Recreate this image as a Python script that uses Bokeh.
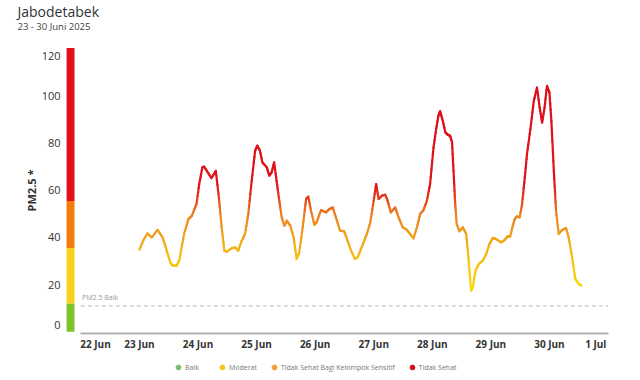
from bokeh.plotting import figure
from bokeh.layouts import column
from bokeh.models import Range1d, FixedTicker, Legend, LegendItem, ColumnDataSource, Label
from bokeh.embed import file_html
from bokeh.resources import INLINE

# ---------------- data ----------------
# hours since 23 Jun 2025 00:00 and PM2.5 (ug/m3)
hours = [0.0, 1.7, 3.3, 5.1, 7.4, 9.5, 10.8, 12.6, 13.6, 15.3, 16.3, 18.3, 20.1, 21.5,
         23.4, 24.5, 25.8, 26.5, 28.0, 29.5, 31.3, 32.4, 33.7, 34.8, 35.8, 37.8, 39.2,
         40.5, 41.9, 43.3, 44.6, 46.0, 47.4, 48.3, 49.4, 50.4, 52.2, 53.2, 54.2, 55.2,
         56.2, 57.3, 58.3, 59.4, 60.4, 61.8, 63.2, 64.4, 65.5, 66.9, 68.3, 69.2, 70.3,
         71.7, 72.6, 74.4, 76.4, 77.8, 79.2, 80.5, 82.2, 83.9, 85.3, 86.7, 88.3, 89.4,
         90.8, 92.0, 93.2, 94.6, 96.0, 97.0, 98.0, 99.4, 100.7, 101.7, 103.0, 104.8,
         106.2, 107.9, 109.6, 110.9, 112.3, 113.7, 115.0, 116.4, 117.8, 119.1, 120.5,
         121.6, 122.5, 123.2, 124.3, 125.4, 126.4, 127.3, 128.1, 128.7, 129.4, 130.0,
         131.1, 132.5, 133.9, 134.8, 135.9, 136.6, 137.7, 139.1, 140.7, 142.1, 143.4,
         144.8, 146.2, 148.2, 149.6, 150.9, 151.9, 153.0, 153.8, 154.7, 155.8, 156.8,
         157.9, 158.8, 160.2, 161.6, 162.9, 164.0, 165.0, 166.0, 167.0, 168.0, 168.8,
         169.8, 170.7, 171.8, 173.2, 174.8, 175.9, 177.3, 178.6, 180.0, 181.1]
pm25 = [34.8, 39.0, 41.7, 40.0, 43.2, 40.0, 35.8, 29.5, 28.1, 28.1, 30.2, 41.5, 47.8, 49.2,
        54.2, 62.6, 69.7, 70.0, 67.6, 65.2, 68.2, 58.4, 44.3, 34.4, 34.0, 35.4, 35.8,
        34.4, 38.6, 41.5, 49.9, 64.0, 76.7, 78.9, 76.7, 71.8, 69.7, 66.2, 67.6, 71.8,
        64.0, 55.6, 48.5, 45.0, 47.1, 45.0, 40.0, 30.9, 33.7, 44.3, 56.3, 57.3, 51.3,
        45.4, 46.4, 51.6, 50.6, 52.0, 52.7, 48.5, 42.9, 42.6, 38.6, 34.4, 30.9, 31.6,
        35.1, 38.4, 41.5, 46.4, 55.6, 62.6, 56.3, 57.7, 58.1, 55.6, 50.6, 52.7,
        48.5, 44.3, 43.2, 41.5, 39.6, 44.3, 49.9, 51.6, 55.6, 62.6, 78.1,
        86.0, 91.5, 93.5, 89.4, 84.5, 83.5, 83.1, 80.3, 68.2, 54.1, 45.7,
        42.6, 44.3, 41.5, 31.6, 17.5, 18.9, 25.9, 28.8, 30.2, 33.0, 37.2,
        39.8, 39.3, 37.9, 38.9, 40.5, 40.3, 45.0, 47.8, 48.9, 48.5, 54.1,
        65.4, 75.3, 85.9, 97.9, 103.5, 95.0, 88.7, 95.0, 104.2, 101.4, 89.4,
        68.2, 51.3, 41.5, 43.2, 44.0, 40.0, 31.6, 22.4, 20.3, 19.6]

tick_labels = ["22 Jun", "23 Jun", "24 Jun", "25 Jun", "26 Jun", "27 Jun",
               "28 Jun", "29 Jun", "30 Jun", "1 Jul"]
y_tick_labels = ["0", "20", "40", "60", "80", "100", "120"]

cat_names = ["Baik", "Moderat", "Tidak Sehat Bagi Kelompok Sensitif", "Tidak Sehat"]
cat_lower = [0, 12, 35.5, 55.5]
cat_upper = [12, 35.5, 55.5, 120.3]
baik_line = 11

title_text = "Jabodetabek"
subtitle_text = "23 - 30 Juni 2025"

# ---------------- styles ----------------
bar_colors = ["#7cc32e", "#f7d21c", "#f47b0c", "#e3101e"]
legend_colors = ["#7dbb74", "#f5c518", "#f0a035", "#d0101b"]
FONT = "Open Sans"

# x axis in hours since 22 Jun 00:00
x0_offset = 24
tick_pos = [6, 24, 48, 72, 96, 120, 144, 168, 192, 211]
y_tick_pos = [3, 20, 40, 60, 80, 100, 117]

W = 640
H_HEAD, H_MAIN, H_LEG = 40, 318, 22


def bare(h):
    f = figure(width=W, height=h, output_backend="svg", toolbar_location=None,
               x_range=Range1d(0, 1), y_range=Range1d(0, 1),
               x_axis_location=None, y_axis_location=None,
               min_border=0, outline_line_color=None, title=None,
               background_fill_color="white", border_fill_color="white",
               frame_align=False)
    f.grid.visible = False
    return f


# ---------------- header (titles) ----------------
head = bare(H_HEAD)
head.add_layout(Label(x=17, y=H_HEAD - 1, x_units="screen", y_units="screen",
                      text=title_text, text_font=FONT, text_font_size="14px",
                      text_color="#333333", text_baseline="top"))
head.add_layout(Label(x=17, y=H_HEAD - 19, x_units="screen", y_units="screen",
                      text=subtitle_text, text_font=FONT, text_font_size="9.5px",
                      text_color="#444444", text_baseline="top"))

# ---------------- main chart ----------------
p = figure(width=W, height=H_MAIN, output_backend="svg", toolbar_location=None,
           x_range=Range1d(-6.7, 216.2), y_range=Range1d(-0.7, 120.5),
           min_border_left=64, min_border_right=32, min_border_top=7,
           min_border_bottom=25, background_fill_color="white",
           border_fill_color="white", outline_line_color=None, title=None,
           frame_align=False)
p.grid.visible = False

yax = p.yaxis[0]
yax.ticker = FixedTicker(ticks=y_tick_pos)
yax.major_label_overrides = {t: l for t, l in zip(y_tick_pos, y_tick_labels)}
yax.axis_line_color = None
yax.major_tick_line_color = None
yax.minor_tick_line_color = None
yax.major_tick_out = 0
yax.major_label_standoff = 4
yax.major_label_text_font = FONT
yax.major_label_text_font_size = "11px"
yax.major_label_text_color = "#333333"
yax.axis_label = "PM2.5 *"
yax.axis_label_text_font = FONT
yax.axis_label_text_font_size = "11px"
yax.axis_label_text_font_style = "bold"
yax.axis_label_text_color = "#333333"
yax.axis_label_standoff = 0

xax = p.xaxis[0]
xax.ticker = FixedTicker(ticks=tick_pos)
xax.major_label_overrides = {t: l for t, l in zip(tick_pos, tick_labels)}
xax.bounds = (0, 216)
xax.axis_line_color = "#b0b0b0"
xax.axis_line_width = 2
xax.major_tick_line_color = None
xax.minor_tick_line_color = None
xax.major_tick_out = 0
xax.major_label_standoff = 3
xax.major_label_text_font = FONT
xax.major_label_text_font_size = "10px"
xax.major_label_text_font_style = "bold"
xax.major_label_text_color = "#333333"

# category colour bar on the left
bx0 = p.x_range.start + 0.85
bx1 = p.x_range.start + 4.1
p.quad(left=[bx0] * 4, right=[bx1] * 4, bottom=cat_lower, top=cat_upper,
       fill_color=bar_colors, line_color=None)

# reference line
p.segment(x0=[0], x1=[216], y0=[baik_line], y1=[baik_line],
          line_color="#b5b5b5", line_width=1, line_dash="4 3")
p.add_layout(Label(x=0.5, y=baik_line + 1.5, text="PM2.5 Baik", text_font=FONT,
                   text_font_size="7px", text_color="#999999"))

# gradient-coloured line
stops = [(20, (246, 214, 10)), (32, (244, 190, 20)), (42, (239, 158, 32)),
         (50, (236, 128, 32)), (56, (230, 70, 28)), (62, (224, 20, 26)),
         (130, (222, 10, 26))]


def grad(v):
    if v <= stops[0][0]:
        c = stops[0][1]
    elif v >= stops[-1][0]:
        c = stops[-1][1]
    else:
        for (a, ca), (b, cb) in zip(stops[:-1], stops[1:]):
            if a <= v <= b:
                t = (v - a) / (b - a)
                c = tuple(round(ca[i] + (cb[i] - ca[i]) * t) for i in range(3))
                break
    return "#%02x%02x%02x" % c


xs = [h + x0_offset for h in hours]
sx0, sy0, sx1, sy1, sc = [], [], [], [], []
n_sub = 5
for i in range(len(xs) - 1):
    for k in range(n_sub):
        t0, t1 = k / n_sub, (k + 1) / n_sub
        xa = xs[i] + (xs[i + 1] - xs[i]) * t0
        xb = xs[i] + (xs[i + 1] - xs[i]) * t1
        ya = pm25[i] + (pm25[i + 1] - pm25[i]) * t0
        yb = pm25[i] + (pm25[i + 1] - pm25[i]) * t1
        sx0.append(xa); sx1.append(xb); sy0.append(ya); sy1.append(yb)
        sc.append(grad((ya + yb) / 2))
src = ColumnDataSource(dict(x0=sx0, y0=sy0, x1=sx1, y1=sy1, c=sc))
p.segment(x0="x0", y0="y0", x1="x1", y1="y1", line_color="c", line_width=2.2,
          line_cap="round", source=src)

# ---------------- legend strip ----------------
leg = bare(H_LEG)
items = []
for name, col in zip(cat_names, legend_colors):
    # proxy renderer (point kept outside the visible range) for the legend swatch
    r = leg.scatter(x=[-10], y=[-10], marker="circle", size=6,
                    fill_color=col, line_color=col)
    items.append(LegendItem(label=name, renderers=[r]))
legend = Legend(items=items, orientation="horizontal", location=(172, 7),
                label_text_font=FONT, label_text_font_size="7px",
                label_text_color="#777777", glyph_width=12, glyph_height=12,
                label_standoff=1, spacing=11, padding=0, margin=0,
                border_line_color=None, background_fill_alpha=0)
leg.add_layout(legend, "center")

layout = column(head, p, leg, spacing=0)
open("out.html", "w").write(file_html(layout, INLINE))
